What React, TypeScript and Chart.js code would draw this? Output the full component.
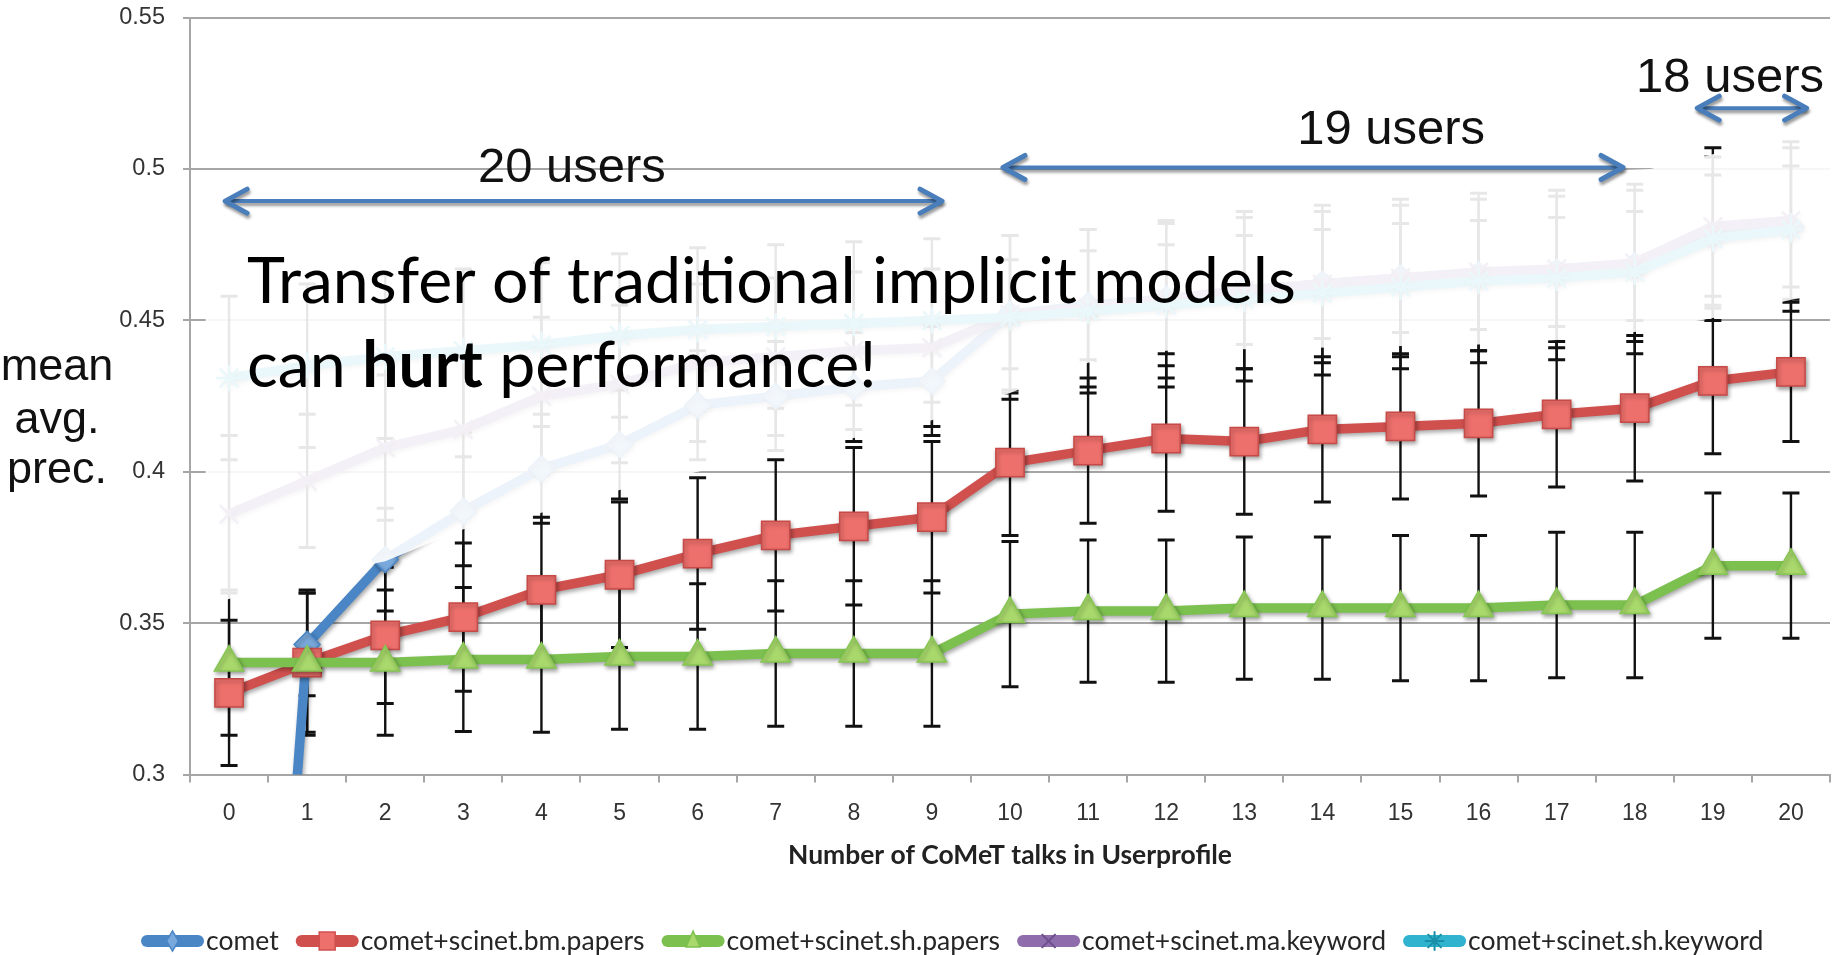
import React, { useEffect, useRef } from 'react';
import { Chart, registerables } from 'chart.js';

Chart.register(...registerables);

// ---------------- data ----------------
const categories = ['0', '1', '2', '3', '4', '5', '6', '7', '8', '9', '10', '11', '12', '13', '14', '15', '16', '17', '18', '19', '20'];
const yTickLabels = ['0.3', '0.35', '0.4', '0.45', '0.5', '0.55'];
const seriesLabels = ['comet', 'comet+scinet.bm.papers', 'comet+scinet.sh.papers', 'comet+scinet.ma.keyword', 'comet+scinet.sh.keyword'];

const cometValues = [0, 0.343, 0.371, 0.387, 0.401, 0.409, 0.422, 0.425, 0.428, 0.43, 0.452, 0.455, 0.457, 0.46, 0.462, 0.464, 0.465, 0.466, 0.468, 0.478, 0.481];
const cometErrors = [0.018, 0.017, 0.017, 0.018, 0.018, 0.018, 0.018, 0.018, 0.018, 0.018, 0.018, 0.018, 0.018, 0.018, 0.018, 0.018, 0.018, 0.018, 0.018, 0.02, 0.02];

const bmPapersValues = [0.327, 0.337, 0.346, 0.352, 0.361, 0.366, 0.373, 0.379, 0.382, 0.385, 0.403, 0.407, 0.411, 0.41, 0.414, 0.415, 0.416, 0.419, 0.421, 0.43, 0.433];
const bmPapersErrors = [0.024, 0.023, 0.0225, 0.0245, 0.024, 0.024, 0.025, 0.025, 0.026, 0.025, 0.024, 0.024, 0.024, 0.024, 0.024, 0.024, 0.024, 0.024, 0.024, 0.024, 0.023];

const shPapersValues = [0.337, 0.337, 0.337, 0.338, 0.338, 0.339, 0.339, 0.34, 0.34, 0.34, 0.353, 0.354, 0.354, 0.355, 0.355, 0.355, 0.355, 0.356, 0.356, 0.369, 0.369];
const shPapersErrors = [0.024, 0.024, 0.024, 0.0238, 0.024, 0.024, 0.024, 0.024, 0.024, 0.024, 0.024, 0.0235, 0.0235, 0.0235, 0.0235, 0.024, 0.024, 0.024, 0.024, 0.024, 0.024];

const maKeywordValues = [0.386, 0.397, 0.408, 0.414, 0.425, 0.429, 0.436, 0.438, 0.44, 0.441, 0.452, 0.454, 0.457, 0.46, 0.462, 0.464, 0.466, 0.467, 0.469, 0.481, 0.483];
const maKeywordErrors = [0.026, 0.022, 0.024, 0.026, 0.026, 0.026, 0.026, 0.026, 0.026, 0.026, 0.026, 0.026, 0.026, 0.026, 0.026, 0.026, 0.026, 0.026, 0.026, 0.026, 0.026];

const shKeywordValues = [0.431, 0.435, 0.438, 0.44, 0.442, 0.445, 0.447, 0.448, 0.449, 0.45, 0.451, 0.453, 0.455, 0.457, 0.459, 0.461, 0.463, 0.464, 0.466, 0.477, 0.48];
const shKeywordErrors = [0.027, 0.027, 0.027, 0.027, 0.027, 0.027, 0.027, 0.027, 0.027, 0.027, 0.027, 0.027, 0.027, 0.027, 0.027, 0.027, 0.027, 0.027, 0.027, 0.027, 0.027];

const yAxisTitleLines = ['mean', 'avg.', 'prec.'];
const xAxisTitle = 'Number of CoMeT talks in Userprofile';
const userSpanLabels = ['20 users', '19 users', '18 users'];
const headlineLine1 = 'Transfer of traditional implicit models';
const headlineLine2 = ['can ', 'hurt', ' performance!'];

// ---------------- styles / annotation geometry (data units) ----------------
const COLORS = {
  comet: '#4a86c6',
  cometFill: '#79a9dc',
  red: '#d0504e',
  redFill: '#ee706c',
  redBorder: '#c64a47',
  green: '#7cc04f',
  greenFill: '#a9d96c',
  greenBorder: '#86c653',
  purple: '#8f6cab',
  cyan: '#2fb3cf',
  arrow: '#4a7ebb',
};

// white veil from the slide's text box (index, value)
const fadeTop = [[-0.3, 0.476], [10, 0.492], [18.2, 0.5], [20.5, 0.514]];
const fadeBottom = [
  [20.5, 0.459], [20, 0.4568], [19, 0.4508], [18, 0.4462], [17, 0.4435], [16, 0.442], [12, 0.44], [11, 0.436],
  [10, 0.426], [9, 0.417], [8, 0.4112], [7, 0.4056], [6, 0.4], [5, 0.394], [4, 0.3865], [3, 0.381], [2, 0.3705],
  [1, 0.365], [0, 0.358], [-0.3, 0.356],
];

const spanGeometry = [
  { from: -0.05, to: 9.13, arrowValue: 0.4894, textIndex: 4.39, textValue: 0.4957 },
  { from: 9.91, to: 17.85, arrowValue: 0.5005, textIndex: 14.88, textValue: 0.5082 },
  { from: 18.8, to: 20.2, arrowValue: 0.5201, textIndex: 19.22, textValue: 0.5254 },
];

const errorSets = [
  { values: cometValues, errors: cometErrors },
  { values: bmPapersValues, errors: bmPapersErrors },
  { values: shPapersValues, errors: shPapersErrors },
  { values: maKeywordValues, errors: maKeywordErrors },
  { values: shKeywordValues, errors: shKeywordErrors },
];

function drawMarker(ctx: CanvasRenderingContext2D, kind: string, x: number, y: number, fill: string, stroke: string) {
  ctx.save();
  ctx.fillStyle = fill;
  ctx.strokeStyle = stroke;
  ctx.lineWidth = 1.5;
  ctx.beginPath();
  if (kind === 'diamond') {
    ctx.moveTo(x, y - 10); ctx.lineTo(x + 6, y); ctx.lineTo(x, y + 10); ctx.lineTo(x - 6, y); ctx.closePath();
    ctx.fill(); ctx.stroke();
  } else if (kind === 'square') {
    ctx.rect(x - 8, y - 9, 16, 18); ctx.fill(); ctx.stroke();
  } else if (kind === 'triangle') {
    ctx.moveTo(x, y - 10); ctx.lineTo(x + 7, y + 6); ctx.lineTo(x - 7, y + 6); ctx.closePath();
    ctx.fill(); ctx.stroke();
  } else {
    ctx.lineWidth = 2;
    ctx.strokeStyle = fill;
    const r = 9;
    for (let k = 0; k < (kind === 'star' ? 4 : 2); k++) {
      const a = (kind === 'star' ? k * Math.PI / 4 : Math.PI / 4 + k * Math.PI / 2);
      ctx.moveTo(x - Math.cos(a) * r, y - Math.sin(a) * r);
      ctx.lineTo(x + Math.cos(a) * r, y + Math.sin(a) * r);
    }
    ctx.stroke();
  }
  ctx.restore();
}

function drawArrowHead(ctx: CanvasRenderingContext2D, x: number, y: number, dir: number) {
  ctx.beginPath();
  ctx.moveTo(x - dir * 22, y - 12);
  ctx.lineTo(x, y);
  ctx.lineTo(x - dir * 22, y + 12);
  ctx.stroke();
}

export default function App() {
  const ref = useRef<HTMLCanvasElement>(null);

  useEffect(() => {
    document.body.style.margin = '0';
    const canvas = ref.current as HTMLCanvasElement;
    const m = document.createElement('canvas').getContext('2d') as CanvasRenderingContext2D;
    const fit = (text: string, font: (s: number) => string, target: number) => {
      m.font = font(100);
      return (100 * target) / m.measureText(text).width;
    };
    const xTitleSize = fit(xAxisTitle, (s) => `bold ${s}px Lato`, 444);
    const legendSize = fit(seriesLabels[1], (s) => `${s}px Lato`, 284);
    const headSize = fit(headlineLine1, (s) => `${s}px Lato`, 1049);

    const legendItems = [
      { label: seriesLabels[0], color: COLORS.comet, fill: COLORS.cometFill, kind: 'diamond' },
      { label: seriesLabels[1], color: COLORS.red, fill: COLORS.redFill, kind: 'square' },
      { label: seriesLabels[2], color: COLORS.green, fill: COLORS.greenFill, kind: 'triangle' },
      { label: seriesLabels[3], color: COLORS.purple, fill: '#6d4f8d', kind: 'cross' },
      { label: seriesLabels[4], color: COLORS.cyan, fill: '#1b8fa8', kind: 'star' },
    ];

    const slidePlugin = {
      id: 'slidePlugin',
      beforeDatasetsDraw(chart: any) {
        const { ctx, chartArea, scales } = chart;
        const xs = scales.x;
        const ys = scales.y;
        ctx.save();
        ctx.beginPath();
        ctx.rect(chartArea.left, chartArea.top, chartArea.right - chartArea.left, chartArea.bottom - chartArea.top);
        ctx.clip();
        ctx.strokeStyle = '#111';
        errorSets.forEach((s) => {
          s.values.forEach((v, i) => {
            const px = xs.getPixelForValue(i);
            const t = ys.getPixelForValue(v + s.errors[i]);
            const b = ys.getPixelForValue(v - s.errors[i]);
            ctx.lineWidth = 2.4;
            ctx.beginPath();
            ctx.moveTo(px, t); ctx.lineTo(px, b);
            ctx.stroke();
            ctx.lineWidth = 3;
            ctx.beginPath();
            ctx.moveTo(px - 8.5, t); ctx.lineTo(px + 8.5, t);
            ctx.moveTo(px - 8.5, b); ctx.lineTo(px + 8.5, b);
            ctx.stroke();
          });
        });
        ctx.restore();
      },
      beforeDatasetDraw(chart: any) {
        const ctx = chart.ctx;
        ctx.save();
        ctx.shadowColor = 'rgba(0,0,0,0.35)';
        ctx.shadowBlur = 4;
        ctx.shadowOffsetX = 1.5;
        ctx.shadowOffsetY = 2.5;
      },
      afterDatasetDraw(chart: any) {
        chart.ctx.restore();
      },
      afterDatasetsDraw(chart: any) {
        const { ctx, scales } = chart;
        const xs = scales.x;
        const ys = scales.y;
        const P = (i: number, v: number) => [xs.getPixelForValue(i), ys.getPixelForValue(v)];
        // white veil
        ctx.save();
        ctx.fillStyle = 'rgba(255,255,255,0.9)';
        ctx.beginPath();
        [...fadeTop, ...fadeBottom].forEach(([i, v], k) => {
          const [px, py] = P(i, v);
          if (k === 0) ctx.moveTo(px, py); else ctx.lineTo(px, py);
        });
        ctx.closePath();
        ctx.fill();
        ctx.restore();

        // span arrows
        ctx.save();
        ctx.strokeStyle = COLORS.arrow;
        ctx.lineCap = 'round';
        ctx.lineJoin = 'round';
        ctx.shadowColor = 'rgba(0,0,0,0.4)';
        ctx.shadowBlur = 3;
        ctx.shadowOffsetX = 1;
        ctx.shadowOffsetY = 3;
        spanGeometry.forEach((g) => {
          const [x1, y] = P(g.from, g.arrowValue);
          const [x2] = P(g.to, g.arrowValue);
          ctx.lineWidth = 4;
          ctx.beginPath();
          ctx.moveTo(x1 + 2, y); ctx.lineTo(x2 - 2, y);
          ctx.stroke();
          ctx.lineWidth = 5;
          drawArrowHead(ctx, x1, y, -1);
          drawArrowHead(ctx, x2, y, 1);
        });
        ctx.restore();

        // span labels
        ctx.save();
        ctx.fillStyle = '#111';
        ctx.font = '49px "Liberation Sans", Arial, sans-serif';
        ctx.textAlign = 'center';
        ctx.textBaseline = 'alphabetic';
        spanGeometry.forEach((g, k) => {
          const [tx, ty] = P(g.textIndex, g.textValue);
          ctx.fillText(userSpanLabels[k], tx, ty);
        });
        ctx.restore();

        // headline
        ctx.save();
        ctx.fillStyle = '#000';
        ctx.textBaseline = 'alphabetic';
        ctx.textAlign = 'left';
        const [hx, hy1] = P(0.23, 0.4558);
        const [, hy2] = P(0.23, 0.428);
        ctx.font = `${headSize}px Lato`;
        ctx.fillText(headlineLine1, hx, hy1);
        let cx = hx;
        headlineLine2.forEach((part, k) => {
          ctx.font = k === 1 ? `bold ${headSize}px Lato` : `${headSize}px Lato`;
          ctx.fillText(part, cx, hy2);
          cx += ctx.measureText(part).width;
        });
        ctx.restore();
      },
      afterDraw(chart: any) {
        const ctx = chart.ctx as CanvasRenderingContext2D;
        // y axis title
        ctx.save();
        ctx.fillStyle = '#111';
        ctx.font = '45px "Liberation Sans", Arial, sans-serif';
        ctx.textAlign = 'center';
        ctx.textBaseline = 'alphabetic';
        const baselines = [380, 433, 483];
        yAxisTitleLines.forEach((t, k) => ctx.fillText(t, 57, baselines[k]));
        ctx.restore();

        // legend
        ctx.save();
        ctx.font = `${legendSize}px Lato`;
        let x = 141;
        const y = 941;
        legendItems.forEach((it) => {
          ctx.save();
          ctx.lineCap = 'round';
          ctx.lineWidth = 12;
          ctx.strokeStyle = it.color;
          ctx.beginPath();
          ctx.moveTo(x + 6, y);
          ctx.lineTo(x + 57, y);
          ctx.stroke();
          drawMarker(ctx, it.kind, x + 31.5, y, it.fill, it.color);
          ctx.restore();
          ctx.fillStyle = '#262626';
          ctx.textBaseline = 'middle';
          ctx.textAlign = 'left';
          ctx.font = `${legendSize}px Lato`;
          ctx.fillText(it.label, x + 65, y);
          x += 65 + ctx.measureText(it.label).width + 17;
        });
        ctx.restore();
      },
    };

    const chart = new Chart(canvas, {
      type: 'line',
      data: {
        labels: categories,
        datasets: [
          {
            label: seriesLabels[0], data: cometValues, order: 5, clip: 0,
            borderColor: COLORS.comet, borderWidth: 9.5, backgroundColor: COLORS.cometFill,
            pointStyle: 'rectRot', pointRadius: 13, pointBorderColor: COLORS.comet, pointBorderWidth: 1.5,
            pointBackgroundColor: COLORS.cometFill, tension: 0,
          },
          {
            label: seriesLabels[1], data: bmPapersValues, order: 4,
            borderColor: COLORS.red, borderWidth: 9.5,
            pointStyle: 'rect', pointRadius: 20, pointBorderColor: COLORS.redBorder, pointBorderWidth: 1.5,
            pointBackgroundColor: COLORS.redFill, tension: 0,
          },
          {
            label: seriesLabels[2], data: shPapersValues, order: 3,
            borderColor: COLORS.green, borderWidth: 9.5,
            pointStyle: 'triangle', pointRadius: 17, pointBorderColor: COLORS.greenBorder, pointBorderWidth: 1.5,
            pointBackgroundColor: COLORS.greenFill, tension: 0,
          },
          {
            label: seriesLabels[3], data: maKeywordValues, order: 2,
            borderColor: COLORS.purple, borderWidth: 9.5,
            pointStyle: 'crossRot', pointRadius: 13, pointBorderColor: COLORS.purple, pointBorderWidth: 2.5,
            pointBackgroundColor: COLORS.purple, tension: 0,
          },
          {
            label: seriesLabels[4], data: shKeywordValues, order: 1,
            borderColor: COLORS.cyan, borderWidth: 9.5,
            pointStyle: 'star', pointRadius: 13, pointBorderColor: COLORS.cyan, pointBorderWidth: 2.5,
            pointBackgroundColor: COLORS.cyan, tension: 0,
          },
        ],
      },
      options: {
        responsive: false,
        animation: false,
        events: [],
        layout: { autoPadding: false, padding: { top: 17.6, right: 13, left: 0, bottom: 0 } },
        plugins: {
          legend: { display: false },
          tooltip: { enabled: false },
          title: { display: false },
        },
        scales: {
          x: {
            type: 'category',
            offset: true,
            grid: { display: true, drawOnChartArea: false, drawTicks: true, tickLength: 8, offset: true, color: '#a6a6a6', lineWidth: 2 },
            border: { display: true, color: '#a6a6a6', width: 2 },
            ticks: { color: '#333', font: { family: '"Liberation Sans", Arial, sans-serif', size: 23 }, padding: 17.5, maxRotation: 0, autoSkip: false },
            title: {
              display: true, text: xAxisTitle, color: '#222',
              font: { family: 'Lato', weight: 'bold', size: xTitleSize, lineHeight: 1.2 },
              padding: { top: 0, bottom: 100 - (xTitleSize * 1.2) / 2 },
            },
            afterFit: (s: any) => { s.height = 955 - 774.6; s.paddingLeft = 0; s.paddingRight = 0; },
          },
          y: {
            type: 'linear',
            min: 0.3,
            max: 0.55,
            ticks: {
              stepSize: 0.05,
              color: '#333',
              font: { family: '"Liberation Sans", Arial, sans-serif', size: 23.5 },
              padding: 18,
              callback: (v: any) => yTickLabels.find((l) => Math.abs(parseFloat(l) - Number(v)) < 1e-6) ?? '',
            },
            grid: { color: '#a6a6a6', lineWidth: 2, tickLength: 7, drawTicks: true },
            border: { display: true, color: '#a6a6a6', width: 2 },
            afterFit: (s: any) => { s.width = 190; s.paddingTop = 0; s.paddingBottom = 0; },
          },
        },
      } as any,
      plugins: [slidePlugin],
    } as any);

    return () => chart.destroy();
  }, []);

  return <canvas ref={ref} width={1843} height={955} style={{ display: 'block', width: '1843px', height: '955px' }} />;
}
